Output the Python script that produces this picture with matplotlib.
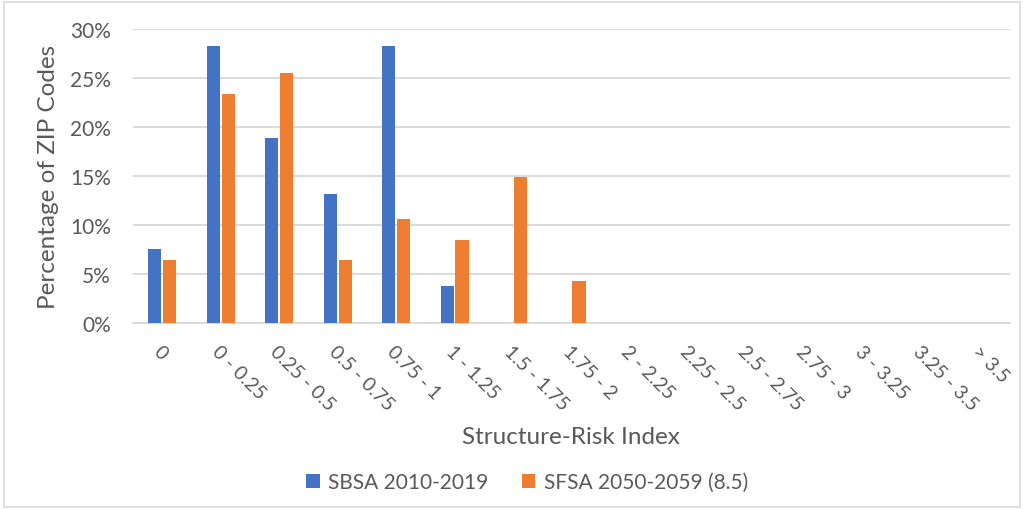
import matplotlib
matplotlib.use("Agg")
import matplotlib.pyplot as plt
import numpy as np
from matplotlib.patches import Rectangle
from matplotlib.ticker import FuncFormatter

plt.rcParams['font.family'] = ['Lato', 'DejaVu Sans']

categories = ["0", "0 - 0.25", "0.25 - 0.5", "0.5 - 0.75", "0.75 - 1", "1 - 1.25",
              "1.5 - 1.75", "1.75 - 2", "2 - 2.25", "2.25 - 2.5", "2.5 - 2.75",
              "2.75 - 3", "3 - 3.25", "3.25 - 3.5", "> 3.5"]
sbsa = [7.55, 28.30, 18.87, 13.21, 28.30, 3.77, 0, 0, 0, 0, 0, 0, 0, 0, 0]
sfsa = [6.38, 23.40, 25.53, 6.38, 10.64, 8.51, 14.89, 4.26, 0, 0, 0, 0, 0, 0, 0]
series_names = ["SBSA 2010-2019", "SFSA 2050-2059 (8.5)"]
colors = ["#4472C4", "#ED7D31"]
text_color = "#595959"

fig = plt.figure(figsize=(10.24, 5.10), dpi=100)
ax = fig.add_axes([133 / 1024, 1 - 324 / 510, (1010 - 133) / 1024, (324 - 30) / 510])

x = np.arange(len(categories))
w = 0.225
gap = 0.03
ax.bar(x - (w + gap) / 2, sbsa, w, color=colors[0], label=series_names[0], zorder=3)
ax.bar(x + (w + gap) / 2, sfsa, w, color=colors[1], label=series_names[1], zorder=3)

ax.set_xlim(-0.5, len(categories) - 0.5)
ax.set_ylim(0, 30)
ax.set_yticks(np.arange(0, 31, 5))
ax.yaxis.set_major_formatter(FuncFormatter(lambda v, p: f"{v:.0f}%"))
ax.grid(axis='y', color="#D9D9D9", linewidth=1.3, zorder=0)
ax.set_axisbelow(True)
for s in ["top", "right", "left"]:
    ax.spines[s].set_visible(False)
ax.spines["bottom"].set_color("#D9D9D9")
ax.spines["bottom"].set_linewidth(1.3)
ax.tick_params(axis='both', length=0, colors=text_color)
ax.tick_params(axis='y', pad=16, labelsize=15)

ax.set_xticks(x)
ax.set_xticklabels(categories, rotation=-45, ha='left', va='top',
                   rotation_mode='anchor', fontsize=14, color=text_color)
ax.tick_params(axis='x', pad=14)

ax.set_ylabel("Percentage of ZIP Codes", fontsize=17.5, color=text_color, labelpad=8)
fig.text(571 / 1024, 1 - 438 / 510, "Structure-Risk Index", fontsize=17.5,
         color=text_color, ha='center', va='center')

leg = fig.legend(loc='center', bbox_to_anchor=(527 / 1024, 1 - 483 / 510), ncol=2,
                 frameon=False, fontsize=15, handlelength=0.65, handleheight=0.65,
                 columnspacing=1.6, handletextpad=0.4)
for t in leg.get_texts():
    t.set_color(text_color)

# light outer border of the chart area
fig.add_artist(Rectangle((0.004, 0.004), 0.992, 0.99, transform=fig.transFigure,
                         fill=False, edgecolor="#D9D9D9", linewidth=1.2))

fig.savefig("out.png", dpi=100, facecolor="white")
